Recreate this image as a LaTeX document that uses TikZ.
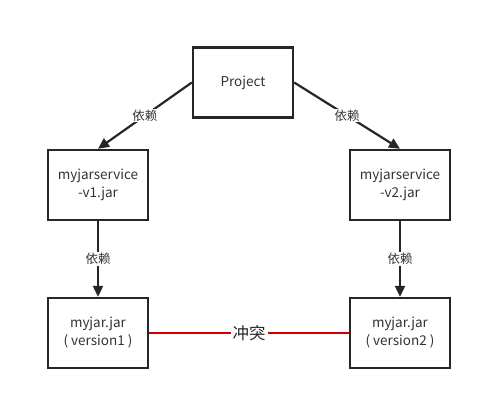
\documentclass[tikz,border=0pt]{standalone}
\usepackage{fontspec}
\setmainfont{Noto Sans CJK SC}
\usetikzlibrary{arrows.meta}
\begin{document}
\begin{tikzpicture}[x=1pt,y=-1pt,
  box/.style={draw=black!85, line width=2.4pt, minimum width=100pt, minimum height=70pt, align=center, font=\fontsize{13.5}{18}\selectfont, text=black!80},
  dep/.style={draw=black!85, line width=2.2pt, -{Triangle[length=11pt,width=10pt]}},
  lbl/.style={fill=white, inner sep=1pt, font=\fontsize{12.5}{14}\selectfont, text=black!80}]
\useasboundingbox (0,0) rectangle (482,401);
\fill[white] (0,0) rectangle (482,401);
\node[box] (p) at (243,82.5) {Project};
\node[box] (s1) at (98,185) {myjarservice\\-v1.jar};
\node[box] (s2) at (400,185) {myjarservice\\-v2.jar};
\node[box] (j1) at (98,333) {myjar.jar\\( version1 )};
\node[box] (j2) at (400,333) {myjar.jar\\( version2 )};
\draw[dep] (p.west) -- (s1.north) node[lbl, pos=0.5] {依赖};
\draw[dep] (p.east) -- (s2.north) node[lbl, pos=0.5] {依赖};
\draw[dep] (s1.south) -- (j1.north) node[lbl, pos=0.5] {依赖};
\draw[dep] (s2.south) -- (j2.north) node[lbl, pos=0.5] {依赖};
\draw[red!80!black, line width=2pt] (j1.east) -- (j2.west) node[fill=white, inner sep=2pt, pos=0.5, font=\fontsize{16.5}{18}\selectfont, text=black!85] {冲突};
\end{tikzpicture}
\end{document}
